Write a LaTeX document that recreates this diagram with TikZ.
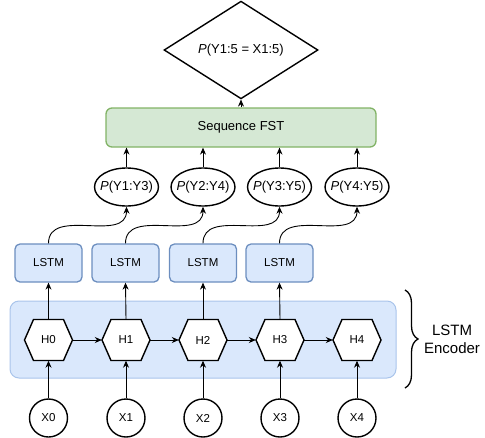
\documentclass[tikz,border=0pt]{standalone}
\usepackage{fontspec}
\setmainfont{Liberation Sans}
\usetikzlibrary{shapes.geometric,arrows.meta,decorations.pathreplacing,calc}
\definecolor{bluefill}{HTML}{DAE8FC}
\definecolor{bluedraw}{HTML}{6C8EBF}
\definecolor{panelfill}{HTML}{DAE8FC}
\definecolor{paneldraw}{HTML}{A9C4EB}
\definecolor{greenfill}{HTML}{D5E8D4}
\definecolor{greendraw}{HTML}{82B366}
\begin{document}
\begin{tikzpicture}[x=1pt,y=-1pt,
  txt/.style={font=\fontsize{11.5}{13}\selectfont},
  bigtxt/.style={font=\fontsize{13}{15}\selectfont},
  panel/.style={draw=paneldraw,fill=panelfill,line width=1pt,rounded corners=9pt,minimum width=386pt,minimum height=77pt,inner sep=0pt},
  lstmbox/.style={draw=bluedraw,fill=bluefill,line width=1.3pt,rounded corners=5pt,minimum width=67pt,minimum height=38pt,inner sep=0pt,txt},
  fstbox/.style={draw=greendraw,fill=greenfill,line width=1.3pt,rounded corners=6pt,minimum width=270pt,minimum height=39pt,inner sep=0pt,bigtxt},
  ell/.style={ellipse,draw,line width=1.4pt,fill=white,minimum width=64pt,minimum height=38pt,inner xsep=-7pt,inner ysep=0pt,bigtxt},
  hexn/.style={minimum width=48pt,minimum height=41pt,inner sep=0pt,txt},
  hexline/.style={line width=1.4pt,fill=white,line join=miter},
  xcirc/.style={circle,draw,line width=1.4pt,fill=white,minimum size=38pt,inner sep=0pt,txt},
  dia/.style={diamond,draw,line width=1.4pt,fill=white,minimum width=154pt,minimum height=76pt,inner sep=0pt,bigtxt},
  arr/.style={-{Stealth[length=7pt,width=6pt]},line width=0.9pt},
]
\useasboundingbox (0,0) rectangle (485,437);

% encoder panel
\node[panel] (enc) at (203,339.5) {};

% top diamond and FST
\node[dia] (goal) at (241,50) {\textit{P}(Y1:5 = X1:5)};
\node[fstbox] (fst) at (241,127.5) {Sequence FST};
\draw[arr] (fst.north) -- (goal.south);

% ellipses
\foreach \i/\x/\t in {1/126.5/{\textit{P}(Y1:Y3)},2/203/{\textit{P}(Y2:Y4)},3/279.5/{\textit{P}(Y3:Y5)},4/357/{\textit{P}(Y4:Y5)}}{
  \node[ell] (e\i) at (\x,187) {\t};
  \draw[arr] (e\i.north) -- (fst.south -| e\i.north);
}

% LSTM boxes
\foreach \i/\x in {1/48.5,2/125.5,3/203,4/279.5}{
  \node[lstmbox] (l\i) at (\x,263) {LSTM};
  \draw[arr] (l\i.north) to[out=90,in=-90,looseness=1.1] (e\i.south);
}

% hexagons (outline first, then the named text node on top)
\foreach \i/\x in {0/48.5,1/126,2/203,3/280,4/357}{
  \draw[hexline] (\x-24,340) -- (\x-15,319.5) -- (\x+15,319.5) -- (\x+24,340)
    -- (\x+15,360.5) -- (\x-15,360.5) -- cycle;
  \node[hexn] (h\i) at (\x,340) {H\i};
  \node[xcirc] (x\i) at (\x,418) {X\i};
  \draw[arr] (x\i.north) -- (h\i.south);
}
\foreach \a/\b in {0/1,1/2,2/3,3/4}{
  \draw[arr] (h\a.east) -- (h\b.west);
}
\foreach \i/\j in {0/1,1/2,2/3,3/4}{
  \draw[arr] (h\i.north) -- (l\j.south);
}

% brace and label
\coordinate (bt) at (405,290);
\coordinate (bb) at (405,388);
\draw[line width=1.3pt,decorate,decoration={brace,amplitude=13pt}] (bt) -- (bb);
\node[font=\fontsize{15}{18}\selectfont,align=center] (enclabel) at (452,339) {LSTM\\Encoder};
\end{tikzpicture}
\end{document}
